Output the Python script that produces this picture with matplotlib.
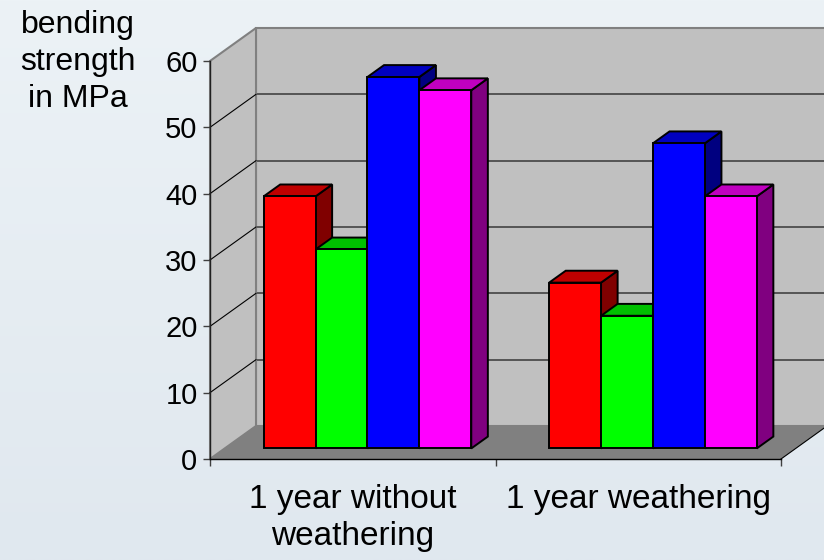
import numpy as np
import matplotlib
matplotlib.use("Agg")
import matplotlib.pyplot as plt
from matplotlib.patches import Polygon
from matplotlib.colors import LinearSegmentedColormap

plt.rcParams['font.family'] = ['Liberation Sans', 'DejaVu Sans']

# ---- data ----
categories = ["1 year without\nweathering", "1 year weathering"]
series_front = ["#FF0000", "#00FF00", "#0000FF", "#FF00FF"]
series_top = ["#C00000", "#00C000", "#0000C0", "#C000C0"]
series_side = ["#800000", "#008000", "#000080", "#800080"]
values = [
    [38, 30, 56, 54],   # 1 year without weathering
    [25, 20, 46, 38],   # 1 year weathering
]
y_ticks = [0, 10, 20, 30, 40, 50, 60]
y_label = "bending\nstrength\nin MPa"

# ---- figure ----
W, H, DPI = 824, 560, 100
fig = plt.figure(figsize=(W / DPI, H / DPI), dpi=DPI)

# soft vertical background gradient
bg = fig.add_axes([0, 0, 1, 1], zorder=-10)
grad = np.linspace(0, 1, 256).reshape(-1, 1)
cmap = LinearSegmentedColormap.from_list("bg", ["#ECF2F6", "#E0E8EF"])
bg.imshow(grad, aspect="auto", cmap=cmap, extent=[0, 1, 0, 1])
bg.set_axis_off()

# front plane of the 3-D box
left_px, right_px, bottom_px, top_px = 210, 781, 459, 61
ax = fig.add_axes([left_px / W, (H - bottom_px) / H,
                   (right_px - left_px) / W, (bottom_px - top_px) / H])
ax.patch.set_visible(False)
ncat = len(categories)
ymax = y_ticks[-1]
ax.set_xlim(0, ncat)
ax.set_ylim(0, ymax)

# depth vector (full box depth) expressed in data units
x_unit = (right_px - left_px) / ncat
y_unit = (bottom_px - top_px) / ymax
DX = 46 / x_unit
DY = 33 / y_unit


def proj(x, v, d):
    return (x + d * DX, v + d * DY)


def face(pts, fc, ec, lw, z):
    ax.add_patch(Polygon([proj(*p) for p in pts], closed=True, facecolor=fc,
                         edgecolor=ec, linewidth=lw, zorder=z, clip_on=False,
                         joinstyle="miter"))


# walls and floor
face([(0, 0, 1), (ncat, 0, 1), (ncat, ymax, 1), (0, ymax, 1)], "#C0C0C0", "#808080", 1.5, 0.2)
face([(0, 0, 0), (0, ymax, 0), (0, ymax, 1), (0, 0, 1)], "#C0C0C0", "#808080", 1.5, 0.3)
face([(0, 0, 0), (ncat, 0, 0), (ncat, 0, 1), (0, 0, 1)], "#808080", "none", 0, 0.4)
xr = [proj(ncat, 0, 0)[0], proj(ncat, 0, 1)[0]]
yr = [proj(ncat, 0, 0)[1], proj(ncat, 0, 1)[1]]
ax.plot(xr, yr, color="black", lw=0.8, zorder=0.45, clip_on=False)

# gridlines on back wall and left wall
for v in y_ticks[1:-1]:
    a, b = proj(0, v, 1), proj(ncat, v, 1)
    ax.plot([a[0], b[0]], [a[1], b[1]], color="#555555", lw=1.4, zorder=0.25, clip_on=False)
    c = proj(0, v, 0)
    ax.plot([c[0], a[0]], [c[1], a[1]], color="black", lw=0.8, zorder=0.35, clip_on=False)

# bars
nser = len(series_front)
bar_w = 1.0 / (nser + 1.5)
d0, d1 = 0.32, 0.68
for ci, row in enumerate(values):
    start = ci + 0.5 - nser * bar_w / 2
    for j, v in enumerate(row):
        x0 = start + j * bar_w
        x1 = x0 + bar_w
        z = 2 + ci * 10 + j
        face([(x1, 0, d0), (x1, v, d0), (x1, v, d1), (x1, 0, d1)],
             series_side[j], "black", 1.4, z)
        face([(x0, v, d0), (x1, v, d0), (x1, v, d1), (x0, v, d1)],
             series_top[j], "black", 1.4, z)
        face([(x0, 0, d0), (x1, 0, d0), (x1, v, d0), (x0, v, d0)],
             series_front[j], "black", 1.4, z)

# axes lines, ticks and labels
for s in ["top", "right"]:
    ax.spines[s].set_visible(False)
ax.spines["left"].set_color("#202020")
ax.spines["bottom"].set_color("black")
ax.spines["left"].set_linewidth(1.0)
ax.spines["bottom"].set_linewidth(1.0)
ax.set_yticks(y_ticks)
ax.set_yticklabels([str(t) for t in y_ticks])
ax.tick_params(axis="y", length=5, width=1, pad=4, labelsize=21, colors="black")
ax.tick_params(axis="y", color="#404040")
ax.set_xticks(range(ncat + 1))
ax.set_xticklabels([])
ax.tick_params(axis="x", which="major", length=5, width=1, color="#404040")
ax.set_xticks([i + 0.5 for i in range(ncat)], minor=True)
ax.set_xticklabels(categories, minor=True, fontsize=24, linespacing=1.25)
ax.tick_params(axis="x", which="minor", length=0, pad=18)

fig.text(78 / W, 1 - 10 / H, y_label, ha="center", va="top", fontsize=23,
         linespacing=1.3, multialignment="center")

fig.savefig("out.png", dpi=DPI)
